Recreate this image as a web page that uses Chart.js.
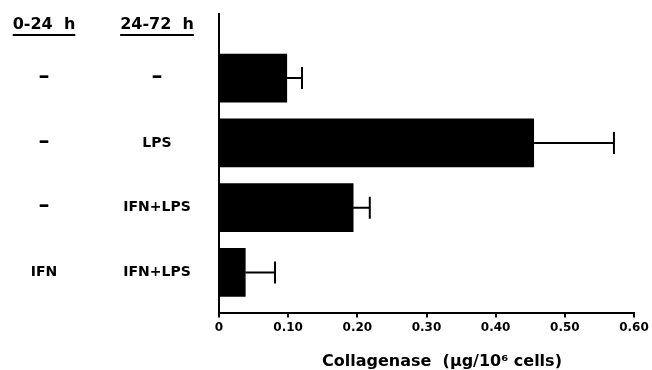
<!DOCTYPE html>
<html lang="en">
<head>
    <meta charset="UTF-8">
    <title>Collagenase</title>
    <script src="https://cdn.jsdelivr.net/npm/chart.js@4.4.1/dist/chart.umd.min.js"></script>
    <style>
        body { margin: 0; padding: 0; background: #fff; }
        canvas { display: block; }
    </style>
</head>
<body>
    <canvas id="chart" width="652" height="370"></canvas>
    <script>
        // treatment rows, top to bottom
        const early = ['–', '–', '–', 'IFN'];          // 0-24 h
        const late = ['–', 'LPS', 'IFN+LPS', 'IFN+LPS'];  // 24-72 h
        const rows = [0, 1, 2, 3];
        const collagenase = [0.098, 0.455, 0.194, 0.038];
        const errors = [0.022, 0.116, 0.024, 0.043];
        const xTicks = [0, 0.1, 0.2, 0.3, 0.4, 0.5, 0.6];
        const xTitle = 'Collagenase  (µg/10⁶ cells)';

        Chart.defaults.font.family = 'DejaVu Sans';
        Chart.defaults.font.weight = 'bold';
        Chart.defaults.color = '#000';

        const labelsAndErrors = {
            id: 'labelsAndErrors',
            afterDatasetsDraw(chart) {
                const ctx = chart.ctx;
                const x = chart.scales.x;
                const y = chart.scales.y;
                ctx.save();
                ctx.strokeStyle = '#000';
                ctx.lineWidth = 2;
                // error bars, upper side only
                collagenase.forEach((v, i) => {
                    const cy = y.getPixelForValue(rows[i]);
                    const x0 = x.getPixelForValue(v);
                    const x1 = x.getPixelForValue(v + errors[i]);
                    ctx.beginPath();
                    ctx.moveTo(x0, cy);
                    ctx.lineTo(x1, cy);
                    ctx.moveTo(x1, cy - 11);
                    ctx.lineTo(x1, cy + 11);
                    ctx.stroke();
                });
                // column headers
                ctx.fillStyle = '#000';
                ctx.textAlign = 'center';
                ctx.textBaseline = 'middle';
                ctx.font = 'bold 16px "DejaVu Sans"';
                [['0-24  h', 44], ['24-72  h', 157]].forEach(([t, cx]) => {
                    ctx.fillText(t, cx, 25);
                    const w = ctx.measureText(t).width;
                    ctx.fillRect(cx - w / 2, 34, w, 2);
                });
                // row labels
                rows.forEach((r, i) => {
                    const cy = y.getPixelForValue(r);
                    [[early[i], 44], [late[i], 157]].forEach(([t, cx]) => {
                        if (t === '–') {
                            ctx.font = 'bold 22px "DejaVu Sans"';
                            ctx.fillText(t, cx, cy - 1);
                        } else {
                            ctx.font = 'bold 14px "DejaVu Sans"';
                            ctx.fillText(t, cx, cy);
                        }
                    });
                });
                // axis title, centred a little right of the axis middle as in the original
                ctx.font = 'bold 16px "DejaVu Sans"';
                ctx.fillText(xTitle, 442, 362);
                ctx.restore();
            }
        };

        new Chart(document.getElementById('chart'), {
            type: 'bar',
            data: {
                datasets: [{
                    data: rows.map((r, i) => ({ x: collagenase[i], y: r })),
                    backgroundColor: '#000',
                    borderWidth: 0,
                    barThickness: 48
                }]
            },
            options: {
                indexAxis: 'y',
                responsive: false,
                animation: false,
                events: [],
                layout: { padding: { left: 211, right: 18, top: 14, bottom: 32 } },
                plugins: { legend: { display: false }, tooltip: { enabled: false } },
                scales: {
                    x: {
                        type: 'linear',
                        min: 0,
                        max: 0.6,
                        afterBuildTicks: axis => { axis.ticks = xTicks.map(v => ({ value: v })); },
                        ticks: {
                            font: { size: 12, weight: 'bold' },
                            padding: 3,
                            maxRotation: 0,
                            callback: v => v === 0 ? '0' : v.toFixed(2)
                        },
                        grid: { drawOnChartArea: false, drawTicks: true, tickLength: 5, color: '#000', lineWidth: 2 },
                        border: { display: true, color: '#000', width: 2 }
                    },
                    y: {
                        type: 'linear',
                        reverse: true,
                        offset: false,
                        min: -0.99,
                        max: 3.62,
                        ticks: { display: false },
                        grid: { display: false },
                        border: { display: true, color: '#000', width: 2 }
                    }
                }
            },
            plugins: [labelsAndErrors]
        });
    </script>
</body>
</html>
